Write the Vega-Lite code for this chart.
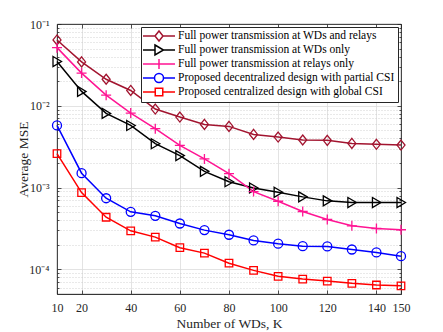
{
  "$schema": "https://vega.github.io/schema/vega-lite/v6.json",
  "width": 344,
  "height": 270,
  "autosize": {"type": "none"},
  "padding": {"left": 57, "top": 24, "right": 42, "bottom": 38},
  "background": "white",
  "config": {
    "view": {"stroke": "#262626", "strokeWidth": 0.8},
    "font": "Liberation Serif",
    "axis": {
      "labelFont": "Liberation Serif",
      "titleFont": "Liberation Serif",
      "labelColor": "#262626",
      "titleColor": "#262626",
      "domainColor": "#262626",
      "tickColor": "#262626",
      "domainWidth": 0.8,
      "tickWidth": 0.8,
      "labelFontSize": 12,
      "titleFontSize": 13.5,
      "titleFontWeight": "normal"
    }
  },
  "data": {
    "values": [
      {"K": 10, "series": "Full power transmission at WDs and relays", "mse": 0.0638},
      {"K": 20, "series": "Full power transmission at WDs and relays", "mse": 0.0344},
      {"K": 30, "series": "Full power transmission at WDs and relays", "mse": 0.0211},
      {"K": 40, "series": "Full power transmission at WDs and relays", "mse": 0.0154},
      {"K": 50, "series": "Full power transmission at WDs and relays", "mse": 0.00912},
      {"K": 60, "series": "Full power transmission at WDs and relays", "mse": 0.00728},
      {"K": 70, "series": "Full power transmission at WDs and relays", "mse": 0.00592},
      {"K": 80, "series": "Full power transmission at WDs and relays", "mse": 0.0056},
      {"K": 90, "series": "Full power transmission at WDs and relays", "mse": 0.00447},
      {"K": 100, "series": "Full power transmission at WDs and relays", "mse": 0.00415},
      {"K": 110, "series": "Full power transmission at WDs and relays", "mse": 0.00382},
      {"K": 120, "series": "Full power transmission at WDs and relays", "mse": 0.00378},
      {"K": 130, "series": "Full power transmission at WDs and relays", "mse": 0.00347},
      {"K": 140, "series": "Full power transmission at WDs and relays", "mse": 0.00338},
      {"K": 150, "series": "Full power transmission at WDs and relays", "mse": 0.00331},
      {"K": 10, "series": "Full power transmission at WDs only", "mse": 0.0348},
      {"K": 20, "series": "Full power transmission at WDs only", "mse": 0.015},
      {"K": 30, "series": "Full power transmission at WDs only", "mse": 0.00807},
      {"K": 40, "series": "Full power transmission at WDs only", "mse": 0.00575},
      {"K": 50, "series": "Full power transmission at WDs only", "mse": 0.00344},
      {"K": 60, "series": "Full power transmission at WDs only", "mse": 0.00246},
      {"K": 70, "series": "Full power transmission at WDs only", "mse": 0.00158},
      {"K": 80, "series": "Full power transmission at WDs only", "mse": 0.00118},
      {"K": 90, "series": "Full power transmission at WDs only", "mse": 0.00099},
      {"K": 100, "series": "Full power transmission at WDs only", "mse": 0.000877},
      {"K": 110, "series": "Full power transmission at WDs only", "mse": 0.00077},
      {"K": 120, "series": "Full power transmission at WDs only", "mse": 0.000688},
      {"K": 130, "series": "Full power transmission at WDs only", "mse": 0.000656},
      {"K": 140, "series": "Full power transmission at WDs only", "mse": 0.000656},
      {"K": 150, "series": "Full power transmission at WDs only", "mse": 0.000656},
      {"K": 10, "series": "Full power transmission at relays only", "mse": 0.0514},
      {"K": 20, "series": "Full power transmission at relays only", "mse": 0.0251},
      {"K": 30, "series": "Full power transmission at relays only", "mse": 0.0135},
      {"K": 40, "series": "Full power transmission at relays only", "mse": 0.00815},
      {"K": 50, "series": "Full power transmission at relays only", "mse": 0.00525},
      {"K": 60, "series": "Full power transmission at relays only", "mse": 0.00328},
      {"K": 70, "series": "Full power transmission at relays only", "mse": 0.00224},
      {"K": 80, "series": "Full power transmission at relays only", "mse": 0.00148},
      {"K": 90, "series": "Full power transmission at relays only", "mse": 0.000893},
      {"K": 100, "series": "Full power transmission at relays only", "mse": 0.000681},
      {"K": 110, "series": "Full power transmission at relays only", "mse": 0.00051},
      {"K": 120, "series": "Full power transmission at relays only", "mse": 0.000407},
      {"K": 130, "series": "Full power transmission at relays only", "mse": 0.000341},
      {"K": 140, "series": "Full power transmission at relays only", "mse": 0.000316},
      {"K": 150, "series": "Full power transmission at relays only", "mse": 0.000305},
      {"K": 10, "series": "Proposed decentralized design with partial CSI", "mse": 0.00575},
      {"K": 20, "series": "Proposed decentralized design with partial CSI", "mse": 0.0015},
      {"K": 30, "series": "Proposed decentralized design with partial CSI", "mse": 0.000741},
      {"K": 40, "series": "Proposed decentralized design with partial CSI", "mse": 0.000505},
      {"K": 50, "series": "Proposed decentralized design with partial CSI", "mse": 0.000452},
      {"K": 60, "series": "Proposed decentralized design with partial CSI", "mse": 0.000364},
      {"K": 70, "series": "Proposed decentralized design with partial CSI", "mse": 0.000302},
      {"K": 80, "series": "Proposed decentralized design with partial CSI", "mse": 0.000265},
      {"K": 90, "series": "Proposed decentralized design with partial CSI", "mse": 0.000226},
      {"K": 100, "series": "Proposed decentralized design with partial CSI", "mse": 0.000206},
      {"K": 110, "series": "Proposed decentralized design with partial CSI", "mse": 0.000192},
      {"K": 120, "series": "Proposed decentralized design with partial CSI", "mse": 0.000191},
      {"K": 130, "series": "Proposed decentralized design with partial CSI", "mse": 0.000175},
      {"K": 140, "series": "Proposed decentralized design with partial CSI", "mse": 0.000161},
      {"K": 150, "series": "Proposed decentralized design with partial CSI", "mse": 0.000145},
      {"K": 10, "series": "Proposed centralized design with global CSI", "mse": 0.0026},
      {"K": 20, "series": "Proposed centralized design with global CSI", "mse": 0.000869},
      {"K": 30, "series": "Proposed centralized design with global CSI", "mse": 0.000434},
      {"K": 40, "series": "Proposed centralized design with global CSI", "mse": 0.000296},
      {"K": 50, "series": "Proposed centralized design with global CSI", "mse": 0.000248},
      {"K": 60, "series": "Proposed centralized design with global CSI", "mse": 0.000184},
      {"K": 70, "series": "Proposed centralized design with global CSI", "mse": 0.000158},
      {"K": 80, "series": "Proposed centralized design with global CSI", "mse": 0.000119},
      {"K": 90, "series": "Proposed centralized design with global CSI", "mse": 0.0000972},
      {"K": 100, "series": "Proposed centralized design with global CSI", "mse": 0.0000822},
      {"K": 110, "series": "Proposed centralized design with global CSI", "mse": 0.0000762},
      {"K": 120, "series": "Proposed centralized design with global CSI", "mse": 0.000072},
      {"K": 130, "series": "Proposed centralized design with global CSI", "mse": 0.0000675},
      {"K": 140, "series": "Proposed centralized design with global CSI", "mse": 0.0000644},
      {"K": 150, "series": "Proposed centralized design with global CSI", "mse": 0.000063}
    ]
  },
  "resolve": {"axis": {"x": "independent", "y": "independent"}},
  "layer": [
    {
      "mark": {"type": "line", "strokeWidth": 1.5},
      "encoding": {
        "x": {
          "field": "K", "type": "quantitative",
          "scale": {"domain": [10, 150], "nice": false, "zero": false},
          "axis": {
            "orient": "bottom",
            "title": "Number of WDs, K",
            "values": [10, 20, 40, 60, 80, 100, 120, 140, 150],
            "grid": true, "gridColor": "#dcdcdc", "gridWidth": 0.8,
            "tickSize": -4, "labelPadding": 12, "titlePadding": 3,
            "labelFlush": false
          }
        },
        "y": {
          "field": "mse", "type": "quantitative",
          "scale": {"type": "log", "domain": [0.00005, 0.1], "nice": false},
          "axis": {
            "orient": "left",
            "title": "Average MSE",
            "values": [0.00006, 0.00007, 0.00008, 0.00009, 0.0001, 0.0002, 0.0003, 0.0004, 0.0005, 0.0006, 0.0007, 0.0008, 0.0009, 0.001, 0.002, 0.003, 0.004, 0.005, 0.006, 0.007, 0.008, 0.009, 0.01, 0.02, 0.03, 0.04, 0.05, 0.06, 0.07, 0.08, 0.09, 0.1],
            "labelExpr": "datum.value == 0.1 ? '10⁻¹' : datum.value == 0.01 ? '10⁻²' : datum.value == 0.001 ? '10⁻³' : datum.value == 0.0001 ? '10⁻⁴' : ''",
            "grid": true,
            "gridColor": {"condition": {"test": "indexof([0.0001, 0.001, 0.01, 0.1], datum.value) >= 0", "value": "#dcdcdc"}, "value": "#c8c8c8"},
            "gridDash": {"condition": {"test": "indexof([0.0001, 0.001, 0.01, 0.1], datum.value) >= 0", "value": []}, "value": [1, 2]},
            "gridWidth": 0.8,
            "tickSize": {"condition": {"test": "indexof([0.0001, 0.001, 0.01, 0.1], datum.value) >= 0", "value": -4}, "value": -2},
            "labelPadding": 12, "titlePadding": -2,
            "labelFlush": false
          }
        },
        "color": {
          "field": "series", "type": "nominal",
          "scale": {
            "domain": ["Full power transmission at WDs and relays", "Full power transmission at WDs only", "Full power transmission at relays only", "Proposed decentralized design with partial CSI", "Proposed centralized design with global CSI"],
            "range": ["#A2142F", "#000000", "#FF1493", "#0000FF", "#FF0000"]
          },
          "legend": {
            "title": null,
            "orient": "top-right",
            "offset": 3,
            "strokeColor": "#262626",
            "fillColor": "white",
            "padding": 3,
            "rowPadding": -2.3,
            "symbolSize": 100,
            "symbolStrokeWidth": 1.5,
            "symbolOffset": 9,
            "labelOffset": 13,
            "labelFont": "Liberation Serif",
            "labelFontSize": 11.5,
            "labelColor": "#000000",
            "labelLimit": 400,
            "encode": {
              "symbols": {
                "update": {
                  "fill": {"value": "transparent"},
                  "shape": {"signal": "datum.value == 'Full power transmission at WDs and relays' ? 'M-3.2,0H-0.8M0.8,0H3.2M0,-1L0.8,0L0,1L-0.8,0Z' : datum.value == 'Full power transmission at WDs only' ? 'M-3.2,0H-0.8M0.9,0H3.2M-0.8,-1L0.9,0L-0.8,1Z' : datum.value == 'Full power transmission at relays only' ? 'M-3.2,0H3.2M0,-1V1' : datum.value == 'Proposed decentralized design with partial CSI' ? 'M-3.2,0H-0.9M0.9,0H3.2M0.9,0A0.9,0.9,0,1,1,-0.9,0A0.9,0.9,0,1,1,0.9,0' : 'M-3.2,0H-0.75M0.75,0H3.2M-0.75,-0.75H0.75V0.75H-0.75Z'"}
                }
              }
            }
          }
        }
      }
    },
    {
      "transform": [{"filter": "datum.series == 'Full power transmission at WDs and relays'"}],
      "mark": {"type": "point", "filled": false, "size": 100, "strokeWidth": 1.3, "opacity": 1, "shape": "M0,-1L0.8,0L0,1L-0.8,0Z"},
      "encoding": {
        "x": {
          "field": "K", "type": "quantitative",
          "axis": {
            "orient": "top", "title": null, "labels": false, "grid": false,
            "values": [10, 20, 40, 60, 80, 100, 120, 140, 150],
            "tickSize": -4
          }
        },
        "y": {
          "field": "mse", "type": "quantitative",
          "axis": {
            "orient": "right", "title": null, "labels": false, "grid": false,
            "values": [0.00006, 0.00007, 0.00008, 0.00009, 0.0001, 0.0002, 0.0003, 0.0004, 0.0005, 0.0006, 0.0007, 0.0008, 0.0009, 0.001, 0.002, 0.003, 0.004, 0.005, 0.006, 0.007, 0.008, 0.009, 0.01, 0.02, 0.03, 0.04, 0.05, 0.06, 0.07, 0.08, 0.09, 0.1],
            "tickSize": {"condition": {"test": "indexof([0.0001, 0.001, 0.01, 0.1], datum.value) >= 0", "value": -4}, "value": -2}
          }
        },
        "color": {"field": "series", "type": "nominal", "legend": null}
      }
    },
    {
      "transform": [{"filter": "datum.series == 'Full power transmission at WDs only'"}],
      "mark": {"type": "point", "filled": false, "size": 100, "strokeWidth": 1.3, "opacity": 1, "shape": "M-0.8,-1L0.9,0L-0.8,1Z"},
      "encoding": {
        "x": {"field": "K", "type": "quantitative", "axis": null},
        "y": {"field": "mse", "type": "quantitative", "axis": null},
        "color": {"field": "series", "type": "nominal", "legend": null}
      }
    },
    {
      "transform": [{"filter": "datum.series == 'Full power transmission at relays only'"}],
      "mark": {"type": "point", "filled": false, "size": 100, "strokeWidth": 1.3, "opacity": 1, "shape": "M-1,0H1M0,-1V1"},
      "encoding": {
        "x": {"field": "K", "type": "quantitative", "axis": null},
        "y": {"field": "mse", "type": "quantitative", "axis": null},
        "color": {"field": "series", "type": "nominal", "legend": null}
      }
    },
    {
      "transform": [{"filter": "datum.series == 'Proposed decentralized design with partial CSI'"}],
      "mark": {"type": "point", "filled": false, "size": 100, "strokeWidth": 1.3, "opacity": 1, "shape": "M0.9,0A0.9,0.9,0,1,1,-0.9,0A0.9,0.9,0,1,1,0.9,0"},
      "encoding": {
        "x": {"field": "K", "type": "quantitative", "axis": null},
        "y": {"field": "mse", "type": "quantitative", "axis": null},
        "color": {"field": "series", "type": "nominal", "legend": null}
      }
    },
    {
      "transform": [{"filter": "datum.series == 'Proposed centralized design with global CSI'"}],
      "mark": {"type": "point", "filled": false, "size": 100, "strokeWidth": 1.3, "opacity": 1, "shape": "M-0.75,-0.75H0.75V0.75H-0.75Z"},
      "encoding": {
        "x": {"field": "K", "type": "quantitative", "axis": null},
        "y": {"field": "mse", "type": "quantitative", "axis": null},
        "color": {"field": "series", "type": "nominal", "legend": null}
      }
    }
  ]
}
